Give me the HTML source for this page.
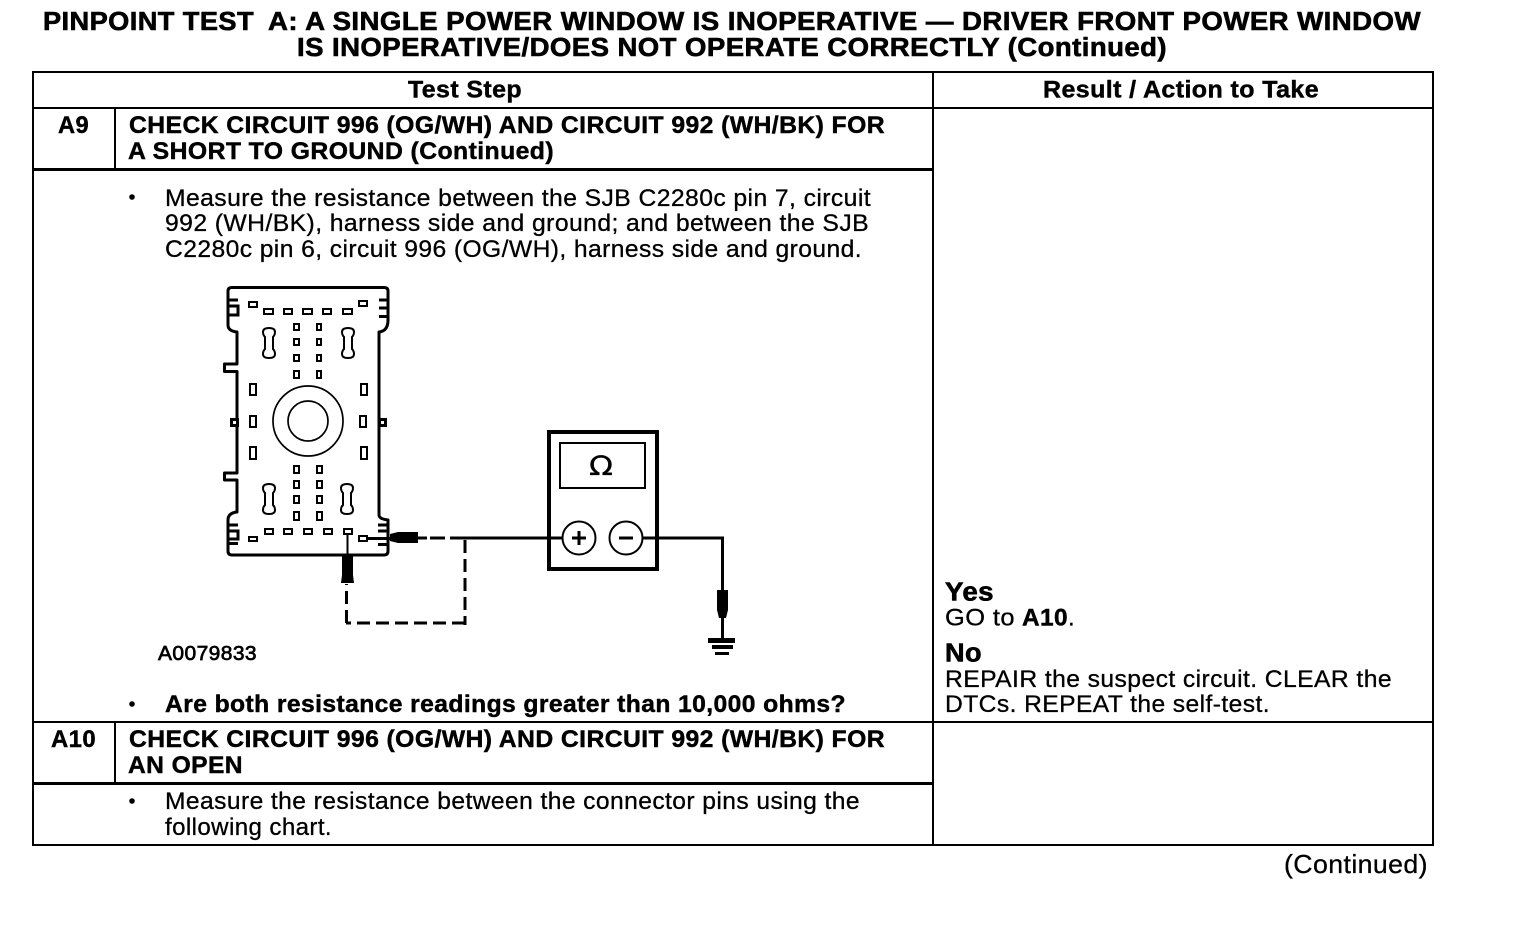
<!DOCTYPE html>
<html><head><meta charset="utf-8"><style>
html,body{margin:0;padding:0;background:#fff;width:1520px;height:930px;overflow:hidden}
svg{display:block}
text{font-family:"Liberation Sans",sans-serif;font-size:24px;fill:#000;stroke:#000;stroke-width:.3;letter-spacing:.4px}
.b{font-weight:bold;stroke-width:.45}
.h{font-size:25.5px;stroke-width:.6}
.l{stroke:#000;fill:none}
.t{fill:#fff;stroke:#000;stroke-width:2}
.c{fill:none;stroke:#000;stroke-width:1.7}
</style></head><body>
<svg width="1520" height="930" viewBox="0 0 1520 930" xmlns="http://www.w3.org/2000/svg">
<!-- title -->
<text class="b h" x="43" y="30" textLength="211" lengthAdjust="spacingAndGlyphs">PINPOINT TEST</text>
<text class="b h" x="268" y="30" textLength="1153" lengthAdjust="spacingAndGlyphs">A: A SINGLE POWER WINDOW IS INOPERATIVE — DRIVER FRONT POWER WINDOW</text>
<text class="b h" x="297" y="56" textLength="870" lengthAdjust="spacingAndGlyphs">IS INOPERATIVE/DOES NOT OPERATE CORRECTLY (Continued)</text>
<!-- table -->
<g class="l" stroke-width="2">
<rect x="33" y="72" width="1400" height="773"/>
<path d="M933 72V845M33 108H1433M115 108V169M33 722H1433M115 722V783"/>
</g>
<path class="l" stroke-width="3" d="M33 169.500H933M33 783.500H933"/>
<!-- headers -->
<text class="b" x="408" y="97.500" textLength="114" lengthAdjust="spacingAndGlyphs">Test Step</text>
<text class="b" x="1043" y="97.500" textLength="276" lengthAdjust="spacingAndGlyphs">Result / Action to Take</text>
<!-- A9 -->
<text class="b" x="58" y="133" textLength="31" lengthAdjust="spacingAndGlyphs">A9</text>
<text class="b" x="129" y="133" textLength="756" lengthAdjust="spacingAndGlyphs">CHECK CIRCUIT 996 (OG/WH) AND CIRCUIT 992 (WH/BK) FOR</text>
<text class="b" x="128" y="159" textLength="426" lengthAdjust="spacingAndGlyphs">A SHORT TO GROUND (Continued)</text>
<circle cx="132" cy="197" r="2.800"/>
<text x="165" y="206" textLength="706" lengthAdjust="spacingAndGlyphs">Measure the resistance between the SJB C2280c pin 7, circuit</text>
<text x="165" y="231" textLength="704" lengthAdjust="spacingAndGlyphs">992 (WH/BK), harness side and ground; and between the SJB</text>
<text x="165" y="257" textLength="697" lengthAdjust="spacingAndGlyphs">C2280c pin 6, circuit 996 (OG/WH), harness side and ground.</text>
<!-- connector outline -->
<path class="l" stroke-width="3" stroke-linejoin="round" d="M228 325V291Q228 287.500 232 287.500H384Q388 287.500 388 291V320Q388 331 379 332V515Q379 519 388 520V551Q388 555 384 555H232Q228 555 228 551V520Q228 513 237 512V480H224.500V473H237V371.500H224.500V364H237V332Q228 331 228 325Z"/>
<path class="l" stroke-width="3" d="M228 300H238M228 306H238V315H228M379 300H388M379 308H388M379 316.500H388M228 525H238M228 531H238V539H228M228 543.500H238M378 525H388M378 531H388M378 544.500H388"/>
<rect x="231.500" y="419.500" width="6" height="6" fill="#fff" stroke="#000" stroke-width="3"/>
<rect x="379.500" y="419.500" width="6" height="6" fill="#fff" stroke="#000" stroke-width="3"/>
<g class="t">
<rect x="249" y="302" width="8" height="5"/><rect x="264" y="309" width="9" height="5"/><rect x="284" y="309" width="8" height="5"/><rect x="303" y="309" width="9" height="5"/><rect x="323" y="309" width="8" height="5"/><rect x="343" y="309" width="9" height="5"/><rect x="359" y="301" width="8" height="5"/>
<rect x="294" y="324" width="5" height="6"/><rect x="317" y="324" width="4" height="6"/><rect x="294" y="339" width="5" height="6"/><rect x="317" y="339" width="4" height="6"/><rect x="294" y="355" width="5" height="6"/><rect x="317" y="355" width="4" height="6"/><rect x="294" y="371" width="5" height="7"/><rect x="317" y="371" width="4" height="7"/>
<rect x="250" y="384" width="6" height="11"/><rect x="361" y="384" width="6" height="11"/><rect x="250" y="416" width="6" height="11"/><rect x="360" y="416" width="6" height="11"/><rect x="250" y="447" width="6" height="12"/><rect x="361" y="447" width="6" height="12"/>
<rect x="294" y="466" width="5" height="7"/><rect x="317" y="466" width="5" height="7"/><rect x="294" y="481" width="5" height="7"/><rect x="317" y="481" width="5" height="7"/><rect x="294" y="496" width="5" height="7"/><rect x="317" y="496" width="5" height="7"/><rect x="294" y="512" width="5" height="8"/><rect x="317" y="512" width="5" height="8"/>
<rect x="265" y="529" width="8" height="5"/><rect x="284" y="529" width="8" height="5"/><rect x="304" y="529" width="8" height="5"/><rect x="324" y="529" width="8" height="5"/><rect x="344" y="529" width="8" height="5"/><rect x="249" y="537" width="8" height="4"/><rect x="359" y="536" width="8" height="5"/>
<path d="M269 328q6 0 6 4q0 3-2 5v12q2 2 2 5q0 4-6 4t-6-4q0-3 2-5v-12q-2-2-2-5q0-4 6-4z"/>
<path d="M348 328q6 0 6 4q0 3-2 5v12q2 2 2 5q0 4-6 4t-6-4q0-3 2-5v-12q-2-2-2-5q0-4 6-4z"/>
<path d="M269 484q6 0 6 4q0 3-2 5v12q2 2 2 5q0 4-6 4t-6-4q0-3 2-5v-12q-2-2-2-5q0-4 6-4z"/>
<path d="M347 484q6 0 6 4q0 3-2 5v12q2 2 2 5q0 4-6 4t-6-4q0-3 2-5v-12q-2-2-2-5q0-4 6-4z"/>
</g>
<circle class="c" cx="308" cy="421" r="35"/><circle class="c" cx="308" cy="421" r="20"/>
<!-- probes & wires -->
<path class="l" stroke-width="2" d="M347.500 534V557"/>
<path d="M342 556H353V575L354 583H341L342 575Z"/>
<path d="M367 537H390V534L398 532H418V543H398L390 541V540H367Z"/>
<path class="l" stroke-width="3" d="M418 538H427M430 538H445M450 538H465"/>
<path class="l" stroke-width="3" stroke-dasharray="13 6" d="M465 540V625"/>
<path class="l" stroke-width="3" stroke-dasharray="13 6" d="M465 623H346"/>
<path class="l" stroke-width="3" stroke-dasharray="13 6" d="M346.500 623V584"/>
<path class="l" stroke-width="3" d="M464 538H563M642 538H722.500V638"/>
<!-- meter -->
<rect x="549" y="432" width="108" height="137" fill="none" stroke="#000" stroke-width="4"/>
<rect x="560" y="443" width="85" height="45" fill="none" stroke="#000" stroke-width="2"/>
<text x="589" y="475" style="font-size:27px;font-family:'DejaVu Sans',sans-serif;letter-spacing:0" textLength="24" lengthAdjust="spacingAndGlyphs">Ω</text>
<circle cx="579" cy="538" r="16.500" fill="#fff" stroke="#000" stroke-width="2"/>
<circle cx="626" cy="538" r="16.500" fill="#fff" stroke="#000" stroke-width="2"/>
<path class="l" stroke-width="3" d="M572 538H586M579 531V545M619 538H633"/>
<!-- ground -->
<path d="M717 590H728V610L726 618H719L717 610Z"/>
<path d="M708 638H735V643H708ZM712 645H733V649H712ZM715 652H729V655H715Z"/>
<text x="158" y="660" textLength="99" lengthAdjust="spacingAndGlyphs" style="font-size:20px;stroke-width:.7">A0079833</text>
<circle cx="132" cy="704" r="2.800"/>
<text class="b" x="165" y="712" textLength="681" lengthAdjust="spacingAndGlyphs">Are both resistance readings greater than 10,000 ohms?</text>
<!-- results -->
<text class="b" x="945" y="600.500" textLength="49" lengthAdjust="spacingAndGlyphs" style="font-size:25.500px;stroke-width:.6">Yes</text>
<text x="945" y="625.500" textLength="70" lengthAdjust="spacingAndGlyphs">GO to</text><text class="b" x="1022" y="625.500" textLength="46" lengthAdjust="spacingAndGlyphs">A10</text><text x="1068" y="625.500">.</text>
<text class="b" x="945" y="661.500" textLength="37" lengthAdjust="spacingAndGlyphs" style="font-size:25.500px;stroke-width:.6">No</text>
<text x="945" y="687" textLength="447" lengthAdjust="spacingAndGlyphs">REPAIR the suspect circuit. CLEAR the</text>
<text x="945" y="712" textLength="325" lengthAdjust="spacingAndGlyphs">DTCs. REPEAT the self-test.</text>
<!-- A10 -->
<text class="b" x="51" y="747" textLength="45" lengthAdjust="spacingAndGlyphs">A10</text>
<text class="b" x="129" y="747" textLength="756" lengthAdjust="spacingAndGlyphs">CHECK CIRCUIT 996 (OG/WH) AND CIRCUIT 992 (WH/BK) FOR</text>
<text class="b" x="128" y="773" textLength="115" lengthAdjust="spacingAndGlyphs">AN OPEN</text>
<circle cx="132" cy="801" r="2.800"/>
<text x="165" y="809" textLength="695" lengthAdjust="spacingAndGlyphs">Measure the resistance between the connector pins using the</text>
<text x="165" y="835" textLength="167" lengthAdjust="spacingAndGlyphs">following chart.</text>
<text x="1284" y="873" textLength="144" lengthAdjust="spacingAndGlyphs" style="font-size:26px">(Continued)</text>
</svg>
</body></html>
